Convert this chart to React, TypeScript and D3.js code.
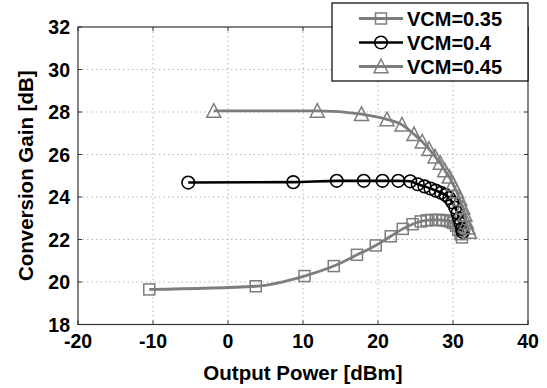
import React from "react";
import * as d3 from "d3";

const xTicks = [-20, -10, 0, 10, 20, 30, 40];
const yTicks = [18, 20, 22, 24, 26, 28, 30, 32];

const x35 = [-10.5, 3.7, 10.2, 14.1, 17.2, 19.7, 21.7, 23.3, 24.6, 25.7, 26.5, 27.1, 27.7, 28.2, 28.7, 29.2, 29.6, 30.0, 30.4, 30.7, 31.0, 31.2];
const y35 = [19.65, 19.8, 20.28, 20.75, 21.28, 21.72, 22.15, 22.5, 22.72, 22.85, 22.9, 22.92, 22.92, 22.92, 22.9, 22.88, 22.85, 22.78, 22.65, 22.45, 22.25, 22.1];

const x40 = [-5.3, 8.7, 14.5, 18.1, 20.6, 22.7, 24.3, 25.3, 26.2, 27.0, 27.7, 28.4, 29.0, 29.5, 29.9, 30.3, 30.6, 30.8, 31.0, 31.2, 31.3];
const y40 = [24.68, 24.7, 24.76, 24.76, 24.76, 24.76, 24.74, 24.6, 24.5, 24.4, 24.3, 24.2, 24.1, 23.95, 23.75, 23.5, 23.25, 23.0, 22.75, 22.5, 22.35];

const x45 = [-1.9, 11.9, 17.8, 21.2, 23.2, 24.8, 25.9, 26.8, 27.6, 28.3, 28.9, 29.5, 30.0, 30.5, 30.9, 31.3, 31.6, 31.8, 32.0, 32.2];
const y45 = [28.05, 28.05, 27.9, 27.65, 27.4, 26.95, 26.6, 26.25, 25.9, 25.6, 25.25, 24.95, 24.6, 24.25, 23.9, 23.5, 23.15, 22.8, 22.55, 22.35];

const seriesNames = ["VCM=0.35", "VCM=0.4", "VCM=0.45"];

const W = 547, H = 388;
const L = 78, R = 528, T = 27, B = 324.5;
const FONT = "'Liberation Sans', Arial, sans-serif";
const GRAY = "#7d7d7d";

type Shape = "square" | "circle" | "triangle";

function Marker({ x, y, shape, color }: { x: number; y: number; shape: Shape; color: string }) {
  if (shape === "square") {
    return <rect x={x - 5.5} y={y - 5.5} width={11} height={11} fill="none" stroke={color} strokeWidth={1.5} />;
  }
  if (shape === "circle") {
    return <circle cx={x} cy={y} r={6.3} fill="none" stroke={color} strokeWidth={1.6} />;
  }
  const h = 12.5, w = 14;
  return (
    <path
      d={`M${x},${y - h / 2 - 1} L${x + w / 2},${y + h / 2} L${x - w / 2},${y + h / 2} Z`}
      fill="none"
      stroke={color}
      strokeWidth={1.5}
    />
  );
}

export default function App() {
  const xs = d3.scaleLinear().domain([-20, 40]).range([L, R]);
  const ys = d3.scaleLinear().domain([18, 32]).range([B, T]);

  const series = [
    { name: seriesNames[0], xv: x35, yv: y35, color: GRAY, width: 2.8, shape: "square" as Shape },
    { name: seriesNames[1], xv: x40, yv: y40, color: "#000", width: 2.6, shape: "circle" as Shape },
    { name: seriesNames[2], xv: x45, yv: y45, color: GRAY, width: 2.8, shape: "triangle" as Shape },
  ];

  const line = d3
    .line<[number, number]>()
    .x((d) => xs(d[0]))
    .y((d) => ys(d[1]))
    .curve(d3.curveMonotoneX);

  return (
    <svg width={W} height={H} style={{ position: "absolute", left: 0, top: 0, background: "#fff" }}>
      <rect x={0} y={0} width={W} height={H} fill="#fff" />
      {/* grid */}
      {xTicks.slice(1, -1).map((t) => (
        <line key={"gx" + t} x1={xs(t)} x2={xs(t)} y1={T} y2={B} stroke="#b5b5b5" strokeWidth={1} strokeDasharray="1.5,3" />
      ))}
      {yTicks.slice(1, -1).map((t) => (
        <line key={"gy" + t} x1={L} x2={R} y1={ys(t)} y2={ys(t)} stroke="#b5b5b5" strokeWidth={1} strokeDasharray="1.5,3" />
      ))}
      {/* ticks inward */}
      {xTicks.map((t) => (
        <g key={"tx" + t}>
          <line x1={xs(t)} x2={xs(t)} y1={B} y2={B - 4} stroke="#333" strokeWidth={1} />
          <line x1={xs(t)} x2={xs(t)} y1={T} y2={T + 4} stroke="#333" strokeWidth={1} />
        </g>
      ))}
      {yTicks.map((t) => (
        <g key={"ty" + t}>
          <line x1={L} x2={L + 4} y1={ys(t)} y2={ys(t)} stroke="#333" strokeWidth={1} />
          <line x1={R} x2={R - 4} y1={ys(t)} y2={ys(t)} stroke="#333" strokeWidth={1} />
        </g>
      ))}
      {/* box */}
      <rect x={L} y={T} width={R - L} height={B - T} fill="none" stroke="#333" strokeWidth={1.2} />

      {/* series */}
      {series.map((s) => {
        const pts = s.xv.map((v, i) => [v, s.yv[i]] as [number, number]);
        return (
          <g key={s.name}>
            <path d={line(pts) || ""} fill="none" stroke={s.color} strokeWidth={s.width} />
            {pts.map((p, i) => (
              <Marker key={i} x={xs(p[0])} y={ys(p[1])} shape={s.shape} color={s.color} />
            ))}
          </g>
        );
      })}

      {/* tick labels */}
      {yTicks.map((t) => (
        <text key={"ly" + t} x={70} y={ys(t) + 7} textAnchor="end" fontFamily={FONT} fontWeight="bold" fontSize={19.5} fill="#000">
          {t}
        </text>
      ))}
      {xTicks.map((t) => (
        <text key={"lx" + t} x={xs(t)} y={348} textAnchor="middle" fontFamily={FONT} fontWeight="bold" fontSize={19.5} fill="#000">
          {t}
        </text>
      ))}

      {/* axis titles */}
      <text x={(L + R) / 2} y={380} textAnchor="middle" fontFamily={FONT} fontWeight="bold" fontSize={20.5} fill="#000">
        Output Power [dBm]
      </text>
      <text
        transform={`translate(33,${(T + B) / 2}) rotate(-90)`}
        textAnchor="middle"
        fontFamily={FONT}
        fontWeight="bold"
        fontSize={20.5}
        fill="#000"
      >
        Conversion Gain [dB]
      </text>

      {/* legend */}
      <rect x={332} y={3} width={196} height={78} fill="#fff" stroke="#000" strokeWidth={1.2} />
      {series.map((s, i) => {
        const cy = 18.5 + i * 24;
        return (
          <g key={"lg" + s.name}>
            <line x1={359} x2={403} y1={cy} y2={cy} stroke={s.color} strokeWidth={s.width} />
            <Marker x={381} y={cy} shape={s.shape} color={s.color} />
            <text x={407} y={cy + 7} fontFamily={FONT} fontWeight="bold" fontSize={20} fill="#000">
              {s.name}
            </text>
          </g>
        );
      })}
    </svg>
  );
}
